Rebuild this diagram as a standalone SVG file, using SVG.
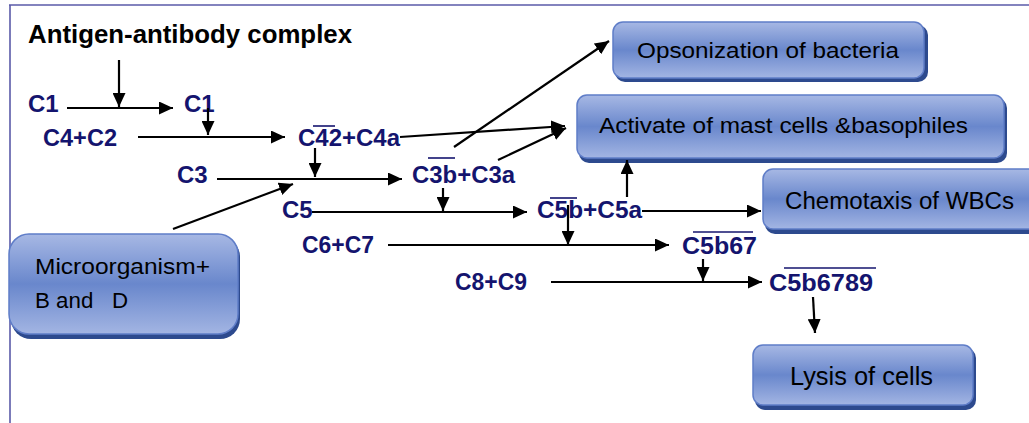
<svg xmlns="http://www.w3.org/2000/svg" width="1029" height="423" viewBox="0 0 1029 423">
  <defs>
    <linearGradient id="boxGrad" x1="0" y1="0" x2="0" y2="1">
      <stop offset="0" stop-color="#a7b8e4"/>
      <stop offset="0.5" stop-color="#6987cc"/>
      <stop offset="1" stop-color="#a3b5e3"/>
    </linearGradient>
    <marker id="arr" markerUnits="userSpaceOnUse" markerWidth="15" markerHeight="13" refX="14" refY="6.5" orient="auto">
      <path d="M0,0 L14,6.5 L0,13 z" fill="#000"/>
    </marker>
  </defs>
  <style>
    .frame { stroke: #5a5aa8; stroke-width: 1.6; fill: none; }
    .shadow { fill: #2d4a8e; }
    .box { fill: url(#boxGrad); stroke: #5f7dc8; stroke-width: 1.5; }
    .btxt { font-family: "Liberation Sans", Arial, sans-serif; fill: #000; white-space: pre; }
    .lbl { font-family: "Liberation Sans", Arial, sans-serif; font-weight: bold; font-size: 24px; fill: #14146e; }
    .ovl { stroke: #14146e; stroke-width: 1.6; }
    .title { font-family: "Liberation Sans", Arial, sans-serif; font-weight: bold; font-size: 25px; fill: #000; }
    .con line { stroke: #000; stroke-width: 2.2; marker-end: url(#arr); }
  </style>
  <rect width="1029" height="423" fill="#fff"/>
  <g id="frame">
    <line class="frame" x1="9" y1="5" x2="1029" y2="5"/>
    <line class="frame" x1="10" y1="5" x2="10" y2="423"/>
  </g>

  <g id="title"><text class="title" x="28" y="43" textLength="324" lengthAdjust="spacingAndGlyphs">Antigen-antibody complex</text></g>

  <g id="node-opsonization">
    <rect class="shadow" x="615" y="25" width="313" height="57" rx="10"/>
    <rect class="box" x="613" y="22" width="311" height="56" rx="10"/>
    <text class="btxt" x="637" y="58" font-size="22" textLength="262" lengthAdjust="spacingAndGlyphs">Opsonization of bacteria</text>
  </g>
  <g id="node-activate">
    <rect class="shadow" x="579" y="98" width="428" height="65" rx="10"/>
    <rect class="box" x="577" y="95" width="427" height="63" rx="10"/>
    <text class="btxt" x="599" y="133" font-size="22" textLength="369" lengthAdjust="spacingAndGlyphs">Activate of mast cells &amp;basophiles</text>
  </g>
  <g id="node-chemotaxis">
    <rect class="shadow" x="765" y="172" width="290" height="62" rx="10"/>
    <rect class="box" x="763" y="169" width="288" height="60" rx="10"/>
    <text class="btxt" x="785" y="209" font-size="23" textLength="229" lengthAdjust="spacingAndGlyphs">Chemotaxis of WBCs</text>
  </g>
  <g id="node-lysis">
    <rect class="shadow" x="755" y="348" width="221" height="62" rx="10"/>
    <rect class="box" x="753" y="345" width="220" height="60" rx="10"/>
    <text class="btxt" x="790" y="385" font-size="25" textLength="143" lengthAdjust="spacingAndGlyphs">Lysis of cells</text>
  </g>
  <g id="node-microorganism">
    <rect class="shadow" x="11" y="237" width="229" height="102" rx="20"/>
    <rect class="box" x="9" y="234" width="229" height="100" rx="20"/>
    <text class="btxt" x="35" y="274" font-size="22" textLength="175" lengthAdjust="spacingAndGlyphs">Microorganism+</text>
    <text class="btxt" x="35" y="308" font-size="22" textLength="93" lengthAdjust="spacingAndGlyphs">B and   D</text>
  </g>

  <g id="node-c1a"><text class="lbl" x="28" y="112">C1</text></g>
  <g id="node-c1b"><text class="lbl" x="184" y="112">C1</text></g>
  <g id="node-c4c2"><text class="lbl" x="43" y="146" textLength="74" lengthAdjust="spacingAndGlyphs">C4+C2</text></g>
  <g id="node-c42">
    <text class="lbl" x="298" y="146" textLength="102" lengthAdjust="spacingAndGlyphs">C42+C4a</text>
    <line class="ovl" x1="313" y1="126" x2="335" y2="126"/>
  </g>
  <g id="node-c3"><text class="lbl" x="177" y="183">C3</text></g>
  <g id="node-c3b">
    <text class="lbl" x="412" y="183" textLength="103" lengthAdjust="spacingAndGlyphs">C3b+C3a</text>
    <line class="ovl" x1="428" y1="158" x2="455" y2="158"/>
  </g>
  <g id="node-c5"><text class="lbl" x="282" y="218">C5</text></g>
  <g id="node-c5b">
    <text class="lbl" x="537" y="218" textLength="105" lengthAdjust="spacingAndGlyphs">C5b+C5a</text>
    <line class="ovl" x1="550" y1="198" x2="577" y2="198"/>
  </g>
  <g id="node-c6c7"><text class="lbl" x="302" y="253" textLength="72" lengthAdjust="spacingAndGlyphs">C6+C7</text></g>
  <g id="node-c5b67">
    <text class="lbl" x="682" y="254" textLength="75" lengthAdjust="spacingAndGlyphs">C5b67</text>
    <line class="ovl" x1="693" y1="232" x2="753" y2="232"/>
  </g>
  <g id="node-c8c9"><text class="lbl" x="455" y="290" textLength="72" lengthAdjust="spacingAndGlyphs">C8+C9</text></g>
  <g id="node-c5b6789">
    <text class="lbl" x="769" y="291" textLength="104" lengthAdjust="spacingAndGlyphs">C5b6789</text>
    <line class="ovl" x1="784" y1="268" x2="876" y2="268"/>
  </g>

  <g id="connectors" class="con">
    <line x1="119" y1="60" x2="119" y2="107"/>
    <line x1="67" y1="108" x2="173" y2="108"/>
    <line x1="208" y1="108" x2="208" y2="135"/>
    <line x1="138" y1="137" x2="285" y2="137"/>
    <line x1="315" y1="148" x2="315" y2="177"/>
    <line x1="217" y1="179" x2="402" y2="179"/>
    <line x1="173" y1="229" x2="293" y2="184"/>
    <line x1="312" y1="212" x2="527" y2="212"/>
    <line x1="443" y1="188" x2="443" y2="211"/>
    <line x1="400" y1="137" x2="565" y2="126"/>
    <line x1="498" y1="160" x2="566" y2="128"/>
    <line x1="454" y1="147" x2="609" y2="41"/>
    <line x1="627" y1="197" x2="627" y2="160"/>
    <line x1="642" y1="211" x2="761" y2="211"/>
    <line x1="568" y1="205" x2="568" y2="245"/>
    <line x1="388" y1="245" x2="669" y2="245"/>
    <line x1="703" y1="259" x2="703" y2="281"/>
    <line x1="551" y1="282" x2="762" y2="282"/>
    <line x1="813" y1="297" x2="815" y2="333"/>
  </g>
</svg>
